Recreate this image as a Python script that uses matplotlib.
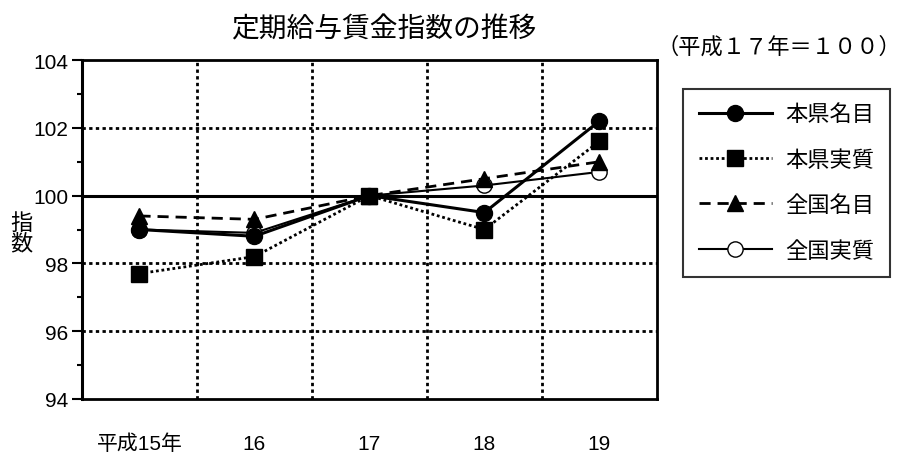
import matplotlib.pyplot as plt
from matplotlib.ticker import MultipleLocator

plt.rcParams['font.family'] = ['Liberation Sans', 'Noto Sans CJK JP']

# データ（平成17年=100）
years = ['平成15年', '16', '17', '18', '19']
ken_meimoku = [99.0, 98.8, 100.0, 99.5, 102.2]
ken_jisshitsu = [97.7, 98.2, 100.0, 99.0, 101.6]
zenkoku_meimoku = [99.4, 99.3, 100.0, 100.5, 101.0]
zenkoku_jisshitsu = [99.0, 98.9, 100.0, 100.3, 100.7]

fig = plt.figure(figsize=(9.11, 4.56), dpi=100)
ax = fig.add_axes([0.090, 0.123, 0.631, 0.743])

x = range(len(years))

# グリッド
for v in [96, 98, 102]:
    ax.axhline(v, color='black', lw=2, ls=(0, (1.2, 1.2)), zorder=1)
for gx in [0.5, 1.5, 2.5, 3.5]:
    ax.axvline(gx, color='black', lw=2, ls=(0, (1.2, 1.2)), zorder=1)
ax.axhline(100, color='black', lw=2.2, zorder=2)

ax.plot(x, zenkoku_jisshitsu, color='black', lw=1.5, marker='o', ms=11,
        mfc='white', mec='black', mew=1, label='全国実質', zorder=3)
ax.plot(x, zenkoku_meimoku, color='black', lw=2, ls=(0, (4, 2.5)), marker='^',
        ms=12, label='全国名目', zorder=4)
ax.plot(x, ken_jisshitsu, color='black', lw=2, ls=(0, (1, 1)), marker='s',
        ms=11, label='本県実質', zorder=5)
ax.plot(x, ken_meimoku, color='black', lw=2.2, marker='o', ms=11.5,
        label='本県名目', zorder=6)

ax.set_xlim(-0.5, 4.5)
ax.set_ylim(94, 104)
ax.yaxis.set_major_locator(MultipleLocator(2))
ax.yaxis.set_minor_locator(MultipleLocator(1))
ax.set_xticks(list(x))
ax.set_xticklabels(years)
ax.tick_params(axis='x', length=0, pad=25, labelsize=15)
ax.tick_params(axis='y', which='major', length=7, width=1.5, pad=3, labelsize=15)
ax.tick_params(axis='y', which='minor', length=3.6, width=1.5)
for s in ax.spines.values():
    s.set_linewidth(2)
    s.set_color('black')
ax.spines['left'].set_linewidth(2.2)

# 凡例
handles, labels = ax.get_legend_handles_labels()
order = [3, 2, 1, 0]
leg = fig.legend([handles[i] for i in order], [labels[i] for i in order],
                 loc='upper left', bbox_to_anchor=(0.750, 0.803),
                 borderaxespad=0, frameon=True, fancybox=False,
                 edgecolor='black', fontsize=16, handlelength=3.3,
                 handletextpad=0.6, labelspacing=1.1, borderpad=0.7)
leg.get_frame().set_linewidth(1.5)

fig.text(0.421, 0.934, '定期給与賃金指数の推移', ha='center', va='center', fontsize=20)
fig.text(0.855, 0.895, '（平成１７年＝１００）', ha='center', va='center', fontsize=16)
fig.text(0.024, 0.485, '指\n数', ha='center', va='center', fontsize=16, linespacing=1.0)

fig.savefig('out.png', dpi=100)
